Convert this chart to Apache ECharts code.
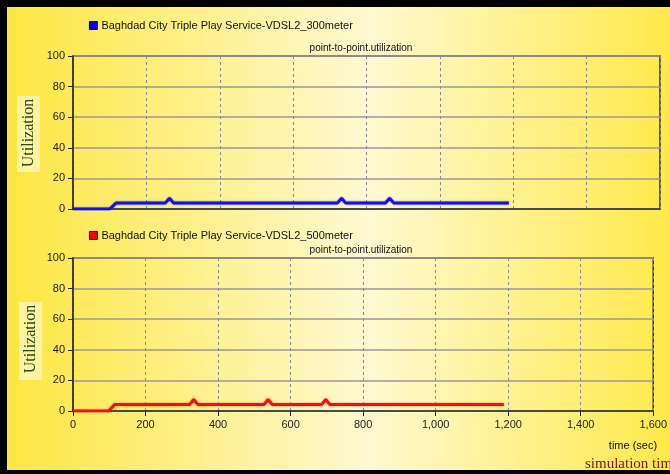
<!DOCTYPE html>
<html>
<head>
<meta charset="utf-8">
<script src="https://cdn.jsdelivr.net/npm/echarts@6/dist/echarts.min.js"></script>
<style>
html,body{margin:0;padding:0;background:#000;}
#c{width:670px;height:474px;}
</style>
</head>
<body>
<div id="c"></div>
<script>
// Data
var seriesNames = ['Baghdad City Triple Play Service-VDSL2_300meter', 'Baghdad City Triple Play Service-VDSL2_500meter'];
var chartTitle = 'point-to-point.utilization';
var xTicks = [0, 200, 400, 600, 800, 1000, 1200, 1400, 1600];
var yTicks = [0, 20, 40, 60, 80, 100];
var timeA = [0, 100, 118, 252, 263, 274, 721, 732, 743, 852, 863, 874, 1188];
var utilA = [0, 0, 4, 4, 7, 4, 4, 7, 4, 4, 7, 4, 4];
var timeB = [0, 98, 115, 322, 333, 344, 527, 538, 549, 686, 697, 708, 1188];
var utilB = [0, 0, 4.3, 4.3, 7.5, 4.3, 4.3, 7.5, 4.3, 4.3, 7.5, 4.3, 4.3];

function pairs(xs, ys){ return xs.map(function(x,i){ return [x, ys[i]]; }); }

var chart = echarts.init(document.getElementById('c'));
var font = '"Liberation Sans", Arial, sans-serif';
var serif = '"Liberation Serif", "Times New Roman", serif';

function xAxis(idx, showLabels){
  return {
    type:'value', gridIndex: idx, min: xTicks[0], max: xTicks[xTicks.length-1], interval: xTicks[1]-xTicks[0],
    axisLine:{show:true, onZero:false, lineStyle:{color:'#333', width:1.5}},
    axisTick:{show: showLabels, length:5, lineStyle:{color:'#222'}},
    axisLabel:{show: showLabels, color:'#222', fontFamily: font, fontSize: 11, margin: 8,
      formatter: function(v){ return v >= 1000 ? Math.floor(v/1000) + ',' + ('00' + (v%1000)).slice(-3) : String(v); }},
    splitLine:{show:true, lineStyle:{color:'#8a8a8a', type:[3,3], width:1}}
  };
}
function yAxis(idx){
  return {
    type:'value', gridIndex: idx, min: yTicks[0], max: yTicks[yTicks.length-1], interval: yTicks[1]-yTicks[0],
    axisLine:{show:true, lineStyle:{color:'#333', width:1.5}},
    axisTick:{show:true, length:5, lineStyle:{color:'#222'}},
    axisLabel:{color:'#222', fontFamily: font, fontSize: 11, margin: 8},
    splitLine:{show:true, lineStyle:{color:'#999', width:1.5}}
  };
}

chart.setOption({
  animation: false,
  backgroundColor: new echarts.graphic.LinearGradient(0,0,1,0,[
    {offset:0, color:'#FDE63E'},
    {offset:0.55, color:'#FFF9D2'},
    {offset:1, color:'#FFE94A'}
  ]),
  title: [
    {text: chartTitle, left: 356, top: 38, textAlign:'center', textStyle:{fontFamily: font, fontSize: 10, fontWeight:'normal', color:'#111'}},
    {text: chartTitle, left: 356, top: 240, textAlign:'center', textStyle:{fontFamily: font, fontSize: 10, fontWeight:'normal', color:'#111'}}
  ],
  legend: [
    {data:[seriesNames[0]], left: 84, top: 15, icon:'rect', itemWidth:8, itemHeight:8, itemGap:4,
      itemStyle:{borderColor:'#000', borderWidth:0.8},
      textStyle:{fontFamily: font, fontSize: 11, color:'#111', padding:[0,0,0,-1]}},
    {data:[seriesNames[1]], left: 84, top: 225, icon:'rect', itemWidth:8, itemHeight:8, itemGap:4,
      itemStyle:{borderColor:'#000', borderWidth:0.8},
      textStyle:{fontFamily: font, fontSize: 11, color:'#111', padding:[0,0,0,-1]}}
  ],
  grid: [
    {left: 73, right: 10, top: 56, height: 153, show:true, borderColor:'#333', borderWidth:1.5, backgroundColor:'transparent'},
    {left: 73, right: 10, top: 258, height: 153, show:true, borderColor:'#333', borderWidth:1.5, backgroundColor:'transparent'}
  ],
  xAxis: [xAxis(0, false), xAxis(1, true)],
  yAxis: [yAxis(0), yAxis(1)],
  series: [
    {name: seriesNames[0], type:'line', xAxisIndex:0, yAxisIndex:0, data: pairs(timeA, utilA),
      showSymbol:false, color:'#0000FF', lineStyle:{width:3, color:'#1010F0', shadowColor:'rgba(0,0,255,0.5)', shadowBlur:2}},
    {name: seriesNames[1], type:'line', xAxisIndex:1, yAxisIndex:1, data: pairs(timeB, utilB),
      showSymbol:false, color:'#FF0000', lineStyle:{width:3, color:'#F01010', shadowColor:'rgba(255,0,0,0.5)', shadowBlur:2}}
  ],
  graphic: [
    {type:'rect', shape:{x:0,y:0,width:670,height:7}, style:{fill:'#000'}, z:100},
    {type:'rect', shape:{x:0,y:470,width:670,height:4}, style:{fill:'#000'}, z:100},
    {type:'rect', shape:{x:0,y:0,width:7,height:474}, style:{fill:'#000'}, z:100},
    {type:'rect', shape:{x:17,y:96,width:23,height:76}, style:{fill:'rgba(255,250,200,0.7)'}, z:10},
    {type:'rect', shape:{x:19,y:302,width:23,height:78}, style:{fill:'rgba(255,250,200,0.7)'}, z:10},
    {type:'text', x:29, y:133, rotation: Math.PI/2, z:11,
      style:{text:'Utilization', fontFamily: serif, fontSize: 16, fill:'#2a4a1a', textAlign:'center', textVerticalAlign:'middle'}},
    {type:'text', x:31, y:339, rotation: Math.PI/2, z:11,
      style:{text:'Utilization', fontFamily: serif, fontSize: 16, fill:'#2a4a1a', textAlign:'center', textVerticalAlign:'middle'}},
    {type:'text', x:633, y:446, z:11,
      style:{text:'time (sec)', fontFamily: font, fontSize: 11, fill:'#111', textAlign:'center', textVerticalAlign:'middle'}},
    {type:'text', x:585, y:464, z:11,
      style:{text:'simulation time', fontFamily: serif, fontSize: 15, fill:'#7a1212', textAlign:'left', textVerticalAlign:'middle'}}
  ]
});
</script>
</body>
</html>
